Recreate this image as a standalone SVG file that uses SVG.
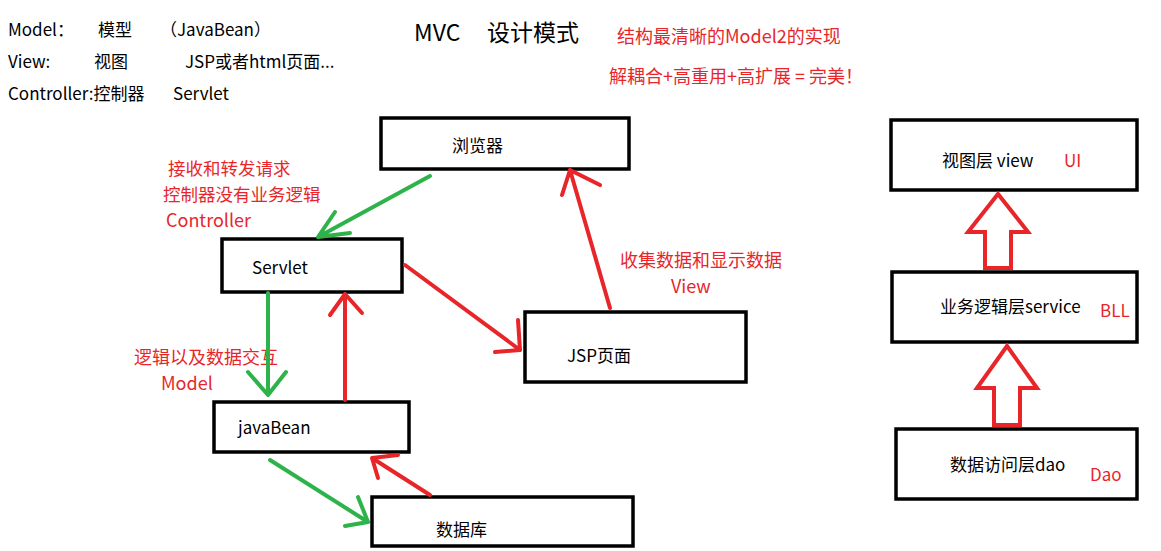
<svg xmlns="http://www.w3.org/2000/svg" width="1161" height="551" viewBox="0 0 1161 551">
<style>
text{font-family:"Microsoft YaHei","Noto Sans CJK SC",sans-serif;font-size:17px;fill:#000}
.r{fill:#e8262a}
.box{fill:#fff;stroke:#000;stroke-width:3.5}
.g{stroke:#2eb34a;stroke-width:4;fill:none;stroke-linecap:round}
.rd{stroke:#e8262a;stroke-width:4;fill:none;stroke-linecap:round}
.blk{fill:#fff;stroke:#e8262a;stroke-width:4}
</style>
<rect width="1161" height="551" fill="#fff"/>
<text x="8" y="36">Model：</text><text x="98" y="36">模型</text><text x="160" y="36">（JavaBean）</text>
<text x="8" y="68">View:</text><text x="94" y="68">视图</text><text x="185" y="68">JSP或者html页面...</text>
<text x="8" y="100">Controller:控制器</text><text x="173" y="100">Servlet</text>
<text x="414" y="41" style="font-size:23px">MVC</text><text x="487" y="41" style="font-size:23px">设计模式</text>
<text x="617" y="43" class="r" style="font-size:18px">结构最清晰的Model2的实现</text>
<text x="609" y="83" class="r" style="font-size:18px">解耦合+高重用+高扩展 = 完美！</text>
<g id="browser"><rect class="box" x="381" y="118" width="248" height="51"/><text x="452" y="152">浏览器</text></g>
<g id="servlet"><rect class="box" x="222" y="239" width="180" height="53"/><text x="252" y="274">Servlet</text></g>
<g id="jsp"><rect class="box" x="525" y="312" width="221" height="70"/><text x="567" y="362">JSP页面</text></g>
<g id="javabean"><rect class="box" x="214" y="402" width="195" height="50"/><text x="238" y="434">javaBean</text></g>
<g id="db"><rect class="box" x="372" y="497" width="261" height="49"/><text x="436" y="536">数据库</text></g>
<g id="view"><rect class="box" x="891" y="120" width="246" height="70"/><text x="942" y="167">视图层 view</text><text x="1064" y="167" class="r">UI</text></g>
<g id="service"><rect class="box" x="892" y="272" width="245" height="70"/><text x="940" y="313">业务逻辑层service</text><text x="1100" y="317" class="r">BLL</text></g>
<g id="dao"><rect class="box" x="896" y="429" width="241" height="70"/><text x="950" y="471">数据访问层dao</text><text x="1090" y="481" class="r">Dao</text></g>
<text x="168" y="175" class="r" style="font-size:17.5px">接收和转发请求</text>
<text x="163" y="201" class="r" style="font-size:17.5px">控制器没有业务逻辑</text>
<text x="166" y="227" class="r" style="font-size:18px">Controller</text>
<text x="620" y="267" class="r" style="font-size:18px">收集数据和显示数据</text>
<text x="671" y="293" class="r" style="font-size:18px">View</text>
<text x="134" y="364" class="r" style="font-size:18px">逻辑以及数据交互</text>
<text x="161" y="390" class="r" style="font-size:18px">Model</text>
<g id="connectors">
<path class="g" d="M430 176 L318 237 M318 237 L350 233 M318 237 L335 212"/>
<path class="g" d="M268 293 L268 395 M268 395 L248 372 M268 395 L286 372"/>
<path class="g" d="M270 460 L368 522 M368 522 L345 526 M368 522 L358 497"/>
<path class="rd" d="M345 400 L345 294 M345 294 L330 315 M345 294 L362 313"/>
<path class="rd" d="M405 265 L520 350 M520 350 L495 352 M520 350 L518 320"/>
<path class="rd" d="M610 308 L570 170 M570 170 L562 195 M570 170 L600 185"/>
<path class="rd" d="M430 495 L372 458 M372 458 L378 478 M372 458 L398 455"/>
<path class="blk" d="M985 268 L985 232 L968 232 L998 194 L1028 232 L1011 232 L1011 268 Z"/>
<path class="blk" d="M994 425 L994 388 L977 388 L1007 346 L1037 388 L1020 388 L1020 425 Z"/>
</g>
</svg>
